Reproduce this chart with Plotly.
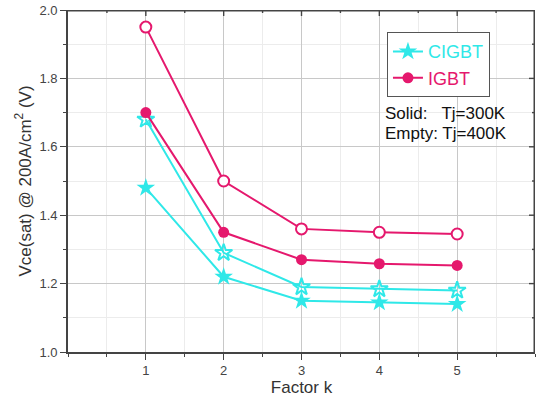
import plotly.graph_objects as go

factor_k = [1, 2, 3, 4, 5]
igbt_300k = [1.70, 1.35, 1.27, 1.258, 1.253]
igbt_400k = [1.95, 1.50, 1.36, 1.35, 1.345]
cigbt_300k = [1.48, 1.22, 1.15, 1.145, 1.14]
cigbt_400k = [1.68, 1.29, 1.19, 1.184, 1.18]
x_ticks = [1, 2, 3, 4, 5]
X_RANGE = [0, 6]
Y_RANGE = [1.0, 2.0]
x_top_ticks = [0.5 * i for i in range(1, 12)]
y_right_ticks = [1.0 + 0.1 * i for i in range(1, 10)]

CYAN = "#2FE8E8"
MAG = "#E5186D"
AX = "#444444"

PLOT_W, PLOT_H = 467, 342

fig = go.Figure()

fig.add_trace(go.Scatter(x=factor_k, y=cigbt_400k, mode="lines+markers",
    line=dict(color=CYAN, width=2),
    marker=dict(symbol="star-open", size=13, color=CYAN, line=dict(width=2, color=CYAN)),
    showlegend=False))
fig.add_trace(go.Scatter(x=factor_k, y=igbt_400k, mode="lines+markers",
    line=dict(color=MAG, width=2),
    marker=dict(symbol="circle", size=11, color="white", line=dict(width=2, color=MAG)),
    showlegend=False))
fig.add_trace(go.Scatter(x=factor_k, y=cigbt_300k, mode="lines+markers",
    name="<span style='color:%s'>CIGBT</span>" % CYAN,
    line=dict(color=CYAN, width=2),
    marker=dict(symbol="star", size=14, color=CYAN)))
fig.add_trace(go.Scatter(x=factor_k, y=igbt_300k, mode="lines+markers",
    name="<span style='color:%s'>IGBT</span>" % MAG,
    line=dict(color=MAG, width=2),
    marker=dict(symbol="circle", size=11, color=MAG)))

# top / right frame and inward ticks (axis furniture drawn as a line trace)
fx, fy = [X_RANGE[0], X_RANGE[1], X_RANGE[1]], [Y_RANGE[1], Y_RANGE[1], Y_RANGE[0]]
for xv in x_top_ticks:
    ln = 6 if abs(xv - round(xv)) < 1e-9 else 3
    fx += [None, xv, xv]
    fy += [None, Y_RANGE[1], Y_RANGE[1] - ln * (Y_RANGE[1] - Y_RANGE[0]) / PLOT_H]
for yv in y_right_ticks:
    ln = 6 if abs(yv * 5 - round(yv * 5)) < 1e-6 else 3
    fx += [None, X_RANGE[1], X_RANGE[1] - ln * (X_RANGE[1] - X_RANGE[0]) / PLOT_W]
    fy += [None, yv, yv]
fig.add_trace(go.Scatter(x=fx, y=fy, mode="lines", line=dict(color=AX, width=1.4),
                         hoverinfo="skip", showlegend=False, cliponaxis=False))
fig.add_trace(go.Scatter(x=[X_RANGE[0], X_RANGE[1], X_RANGE[1]],
                         y=[Y_RANGE[1], Y_RANGE[1], Y_RANGE[0]], mode="lines",
                         line=dict(color=AX, width=3), hoverinfo="skip",
                         showlegend=False, cliponaxis=False))

fig.add_annotation(x=0.675, y=0.697, xref="paper", yref="paper", xanchor="left",
    yanchor="middle", showarrow=False, text="Solid:   Tj=300K",
    font=dict(family="Arial, Liberation Sans", size=17, color="#111111"))
fig.add_annotation(x=0.675, y=0.638, xref="paper", yref="paper", xanchor="left",
    yanchor="middle", showarrow=False, text="Empty: Tj=400K",
    font=dict(family="Arial, Liberation Sans", size=17, color="#111111"))

fig.update_layout(
    width=543, height=403,
    margin=dict(l=68, r=8, t=10, b=51, autoexpand=False),
    paper_bgcolor="white", plot_bgcolor="white",
    font=dict(family="Arial, Liberation Sans", color="#333333"),
    xaxis=dict(range=X_RANGE, tickmode="array", tickvals=x_ticks,
               ticks="outside", ticklen=6, tickcolor=AX, tickwidth=1.2,
               showline=True, linecolor=AX, linewidth=1.6, zeroline=False,
               showgrid=True, gridcolor="#c8c8c8", gridwidth=1,
               minor=dict(tickmode="linear", tick0=0, dtick=0.5, ticks="outside",
                          ticklen=3, showgrid=True, gridcolor="#ececec", tickcolor=AX),
               tickfont=dict(size=13, color="#444444"),
               title=dict(text="Factor k", font=dict(size=17, color="#333333"), standoff=0)),
    yaxis=dict(range=Y_RANGE, tickmode="linear", tick0=1.0, dtick=0.2,
               tickformat=".1f",
               ticks="outside", ticklen=6, tickcolor=AX, tickwidth=1.2,
               showline=True, linecolor=AX, linewidth=1.6, zeroline=False,
               showgrid=True, gridcolor="#c8c8c8", gridwidth=1,
               minor=dict(dtick=0.1, ticks="outside",
                          ticklen=3, showgrid=True, gridcolor="#ececec", tickcolor=AX),
               tickfont=dict(size=13, color="#444444"),
               title=dict(text="Vce(sat) @ 200A/cm<sup>2</sup> (V)",
                          font=dict(size=17, color="#333333"), standoff=4)),
    legend=dict(x=0.683, y=0.935, xanchor="left", yanchor="top",
                bgcolor="white", bordercolor="#555555", borderwidth=1,
                font=dict(size=18), tracegroupgap=0),
)

fig.write_html("out.html")
